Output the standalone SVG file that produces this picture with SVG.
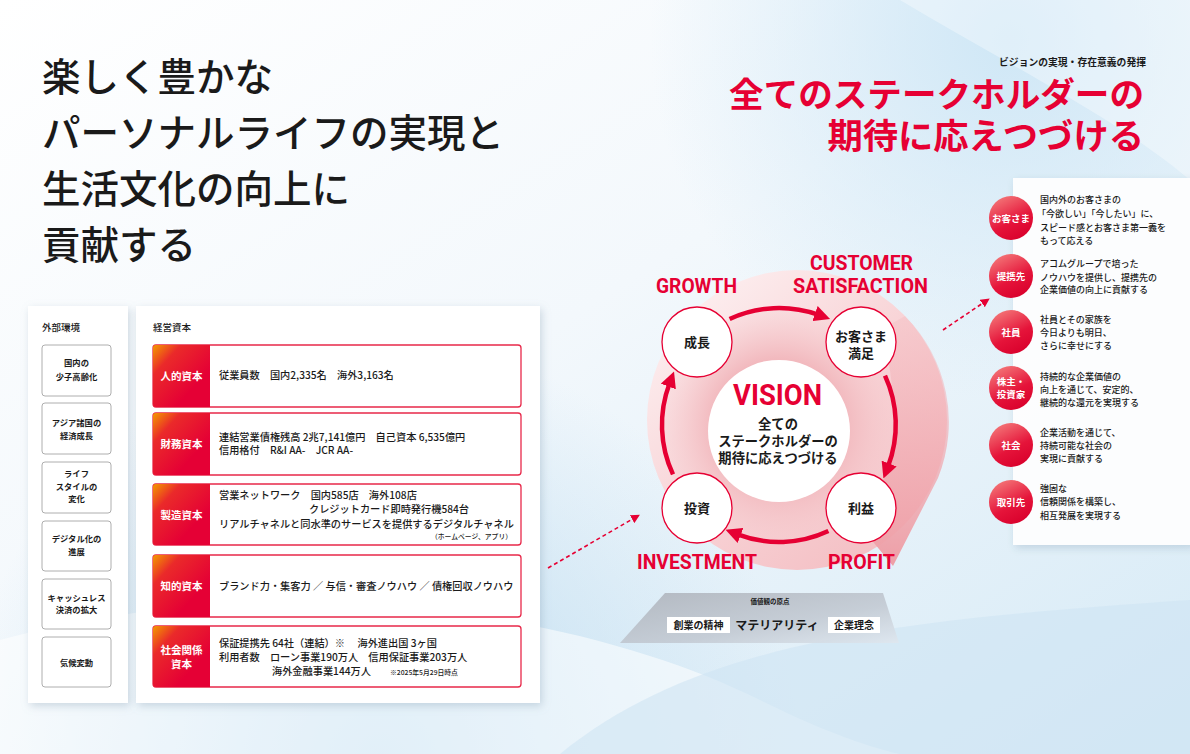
<svg xmlns="http://www.w3.org/2000/svg" width="1190" height="754" viewBox="0 0 1190 754">
<defs>
<linearGradient id="bg" x1="0" y1="0" x2="1" y2="1">
<stop offset="0" stop-color="#ffffff"/>
<stop offset="0.45" stop-color="#f3f8fc"/>
<stop offset="1" stop-color="#d6eaf6"/>
</linearGradient>
<radialGradient id="bgTR" cx="1010" cy="40" r="360" gradientUnits="userSpaceOnUse">
<stop offset="0" stop-color="#cfe7f6"/>
<stop offset="1" stop-color="#cfe7f6" stop-opacity="0"/>
</radialGradient>
<radialGradient id="bgBL" cx="380" cy="760" r="420" gradientUnits="userSpaceOnUse">
<stop offset="0" stop-color="#bddcf0"/>
<stop offset="1" stop-color="#bddcf0" stop-opacity="0"/>
</radialGradient>
<linearGradient id="lab" x1="0" y1="0" x2="0.7" y2="0.7">
<stop offset="0" stop-color="#f39a00"/>
<stop offset="0.35" stop-color="#ea2a2a"/>
<stop offset="1" stop-color="#e50035"/>
</linearGradient>
<linearGradient id="redc" x1="0.2" y1="0" x2="0.7" y2="1">
<stop offset="0" stop-color="#f47a7a"/>
<stop offset="0.6" stop-color="#e5143a"/>
<stop offset="1" stop-color="#d9002c"/>
</linearGradient>
<linearGradient id="disc" x1="0.1" y1="0.05" x2="0.9" y2="0.95">
<stop offset="0" stop-color="#fdf1f2"/>
<stop offset="0.5" stop-color="#f8d3d6"/>
<stop offset="1" stop-color="#f3bcc1"/>
</linearGradient>
<radialGradient id="inner" cx="779" cy="425" r="120" gradientUnits="userSpaceOnUse">
<stop offset="0.55" stop-color="#f2b9be"/>
<stop offset="1" stop-color="#f7d3d6" stop-opacity="0.3"/>
</radialGradient>
<linearGradient id="wedge" x1="0" y1="0" x2="0" y2="1">
<stop offset="0" stop-color="#f4bcc1" stop-opacity="0.4"/>
<stop offset="1" stop-color="#ee9ea6"/>
</linearGradient>
<linearGradient id="plat" x1="0" y1="0" x2="1" y2="1">
<stop offset="0" stop-color="#aeb3bb"/>
<stop offset="0.6" stop-color="#c3cad3"/>
<stop offset="1" stop-color="#dfe7ef"/>
</linearGradient>
<filter id="sh" x="-10%" y="-10%" width="120%" height="120%">
<feDropShadow dx="2" dy="3" stdDeviation="4" flood-color="#7f98ad" flood-opacity="0.35"/>
</filter>
<marker id="ah" viewBox="0 0 10 10" refX="2" refY="5" markerWidth="16" markerHeight="16" markerUnits="userSpaceOnUse" orient="auto">
<path d="M0,0 L10,5 L0,10 Z" fill="#e60033"/>
</marker>
<marker id="ahs" viewBox="0 0 10 10" refX="5" refY="5" markerWidth="9" markerHeight="9" markerUnits="userSpaceOnUse" orient="auto">
<path d="M0,0 L10,5 L0,10 Z" fill="#e60033"/>
</marker>
<style>
.jp{font-family:"Noto Sans CJK JP","Noto Sans",sans-serif;}
.t{font-family:"Noto Sans CJK JP","Noto Sans",sans-serif;fill:#1a1a1a;}
.m{font-weight:500;}
.b{font-weight:bold;}
.w{fill:#ffffff;font-weight:bold;font-family:"Noto Sans CJK JP","Noto Sans",sans-serif;}
.red{fill:#e60033;}
.en{font-family:Roboto,"Liberation Sans",sans-serif;font-weight:bold;fill:#e60033;}
.envbox{fill:#ffffff;stroke:#9a9a9a;stroke-width:0.8;}
.cap{fill:#ffffff;stroke:#e8284a;stroke-width:1.3;}
.node{fill:#ffffff;stroke:#e60033;stroke-width:1.3;}
.arc{fill:none;stroke:#e60033;stroke-width:4.5;marker-end:url(#ah);}
.dash{fill:none;stroke:#e60033;stroke-width:1.6;stroke-dasharray:4 3;marker-end:url(#ahs);}
.c10{font-size:10.2px;font-weight:500;}
.c9{font-size:9px;font-weight:500;}
.e8{font-size:8.3px;font-weight:bold;}
</style>
</defs>

<!-- background -->
<rect x="0" y="0" width="1190" height="754" fill="url(#bg)"/>
<rect x="0" y="0" width="1190" height="754" fill="url(#bgTR)"/>
<rect x="0" y="0" width="1190" height="754" fill="url(#bgBL)"/>
<path d="M0,640 C300,560 600,620 760,700 C850,745 900,754 900,754 L0,754 Z" fill="#ffffff" opacity="0.55"/>
<path d="M560,754 C700,640 900,620 1190,600 L1190,754 Z" fill="#cfe5f3" opacity="0.6"/>
<path d="M900,0 L1190,0 L1190,180 C1120,120 1000,60 900,0 Z" fill="#ffffff" opacity="0.35"/>

<!-- left title -->
<g id="main-title">
<text class="t m" font-size="38.5px"><tspan x="42" y="91">楽しく豊かな</tspan><tspan x="42" y="147">パーソナルライフの実現と</tspan><tspan x="42" y="203">生活文化の向上に</tspan><tspan x="42" y="259">貢献する</tspan></text>
</g>

<!-- right title -->
<g id="vision-title">
<text x="1146" y="66" class="t b" font-size="9.8px" text-anchor="end">ビジョンの実現・存在意義の発揮</text>
<text class="jp b red" text-anchor="end"><tspan x="1144" y="107" font-size="34.6px">全てのステークホルダーの</tspan><tspan x="1144" y="149" font-size="35.3px">期待に応えつづける</tspan></text>
</g>

<!-- external environment panel -->
<g id="external-env">
<rect x="28" y="306" width="100" height="397" fill="#ffffff" filter="url(#sh)"/>
<text x="42" y="331" class="t m" font-size="9.5px">外部環境</text>
<rect class="envbox" x="42" y="345" width="69" height="51" rx="3"/>
<text class="t e8" x="76.5" text-anchor="middle"><tspan x="76.5" y="366">国内の</tspan><tspan x="76.5" y="380">少子高齢化</tspan></text>
<rect class="envbox" x="42" y="403" width="69" height="51" rx="3"/>
<text class="t e8" x="76.5" text-anchor="middle"><tspan x="76.5" y="426">アジア諸国の</tspan><tspan x="76.5" y="439">経済成長</tspan></text>
<rect class="envbox" x="42" y="462" width="69" height="51" rx="3"/>
<text class="t e8" x="76.5" text-anchor="middle"><tspan x="76.5" y="477">ライフ</tspan><tspan x="76.5" y="490">スタイルの</tspan><tspan x="76.5" y="502">変化</tspan></text>
<rect class="envbox" x="42" y="521" width="69" height="50" rx="3"/>
<text class="t e8" x="76.5" text-anchor="middle"><tspan x="76.5" y="542">デジタル化の</tspan><tspan x="76.5" y="555">進展</tspan></text>
<rect class="envbox" x="42" y="579" width="69" height="50" rx="3"/>
<text class="t e8" x="76.5" text-anchor="middle"><tspan x="76.5" y="601">キャッシュレス</tspan><tspan x="76.5" y="613">決済の拡大</tspan></text>
<rect class="envbox" x="42" y="637" width="69" height="50" rx="3"/>
<text class="t e8" x="76.5" y="666" text-anchor="middle">気候変動</text>
</g>

<!-- management capital panel -->
<g id="capital">
<rect x="136" y="306" width="404" height="397" fill="#ffffff" filter="url(#sh)"/>
<text x="153" y="331" class="t m" font-size="9.5px">経営資本</text>

<rect class="cap" x="153" y="345" width="368" height="62" rx="3"/>
<path d="M156,345 H210 V407 H156 Q153,407 153,404 V348 Q153,345 156,345 Z" fill="url(#lab)"/>
<text class="w" font-size="10.5px" x="181.5" y="380" text-anchor="middle">人的資本</text>
<text class="t c10" x="219" y="379">従業員数　国内2,335名　海外3,163名</text>

<rect class="cap" x="153" y="413" width="368" height="62" rx="3"/>
<path d="M156,413 H210 V475 H156 Q153,475 153,472 V416 Q153,413 156,413 Z" fill="url(#lab)"/>
<text class="w" font-size="10.5px" x="181.5" y="448" text-anchor="middle">財務資本</text>
<text class="t c10" x="219" y="441">連結営業債権残高 2兆7,141億円　自己資本 6,535億円</text>
<text class="t c10" x="219" y="454">信用格付　R&amp;I AA-　JCR AA-</text>

<rect class="cap" x="153" y="484" width="368" height="61" rx="3"/>
<path d="M156,484 H210 V545 H156 Q153,545 153,542 V487 Q153,484 156,484 Z" fill="url(#lab)"/>
<text class="w" font-size="10.5px" x="181.5" y="519" text-anchor="middle">製造資本</text>
<text class="t c10" x="219" y="499">営業ネットワーク　国内585店　海外108店</text>
<text class="t c10" x="309" y="513">クレジットカード即時発行機584台</text>
<text class="t c10" x="219" y="528">リアルチャネルと同水準のサービスを提供するデジタルチャネル</text>
<text class="t m" font-size="6.8px" x="512" y="539" text-anchor="end">（ホームページ、アプリ）</text>

<rect class="cap" x="153" y="555" width="368" height="62" rx="3"/>
<path d="M156,555 H210 V617 H156 Q153,617 153,614 V558 Q153,555 156,555 Z" fill="url(#lab)"/>
<text class="w" font-size="10.5px" x="181.5" y="590" text-anchor="middle">知的資本</text>
<text class="t c10" x="219" y="590">ブランド力・集客力 ／ 与信・審査ノウハウ ／ 債権回収ノウハウ</text>

<rect class="cap" x="153" y="626" width="368" height="61" rx="3"/>
<path d="M156,626 H210 V687 H156 Q153,687 153,684 V629 Q153,626 156,626 Z" fill="url(#lab)"/>
<text class="w" font-size="10.5px" text-anchor="middle"><tspan x="181.5" y="654">社会関係</tspan><tspan x="181.5" y="668">資本</tspan></text>
<text class="t c10" x="219" y="647">保証提携先 64社（連結）※　 海外進出国 3ヶ国</text>
<text class="t c10" x="219" y="661">利用者数　ローン事業190万人　信用保証事業203万人</text>
<text class="t c10" x="272" y="675">海外金融事業144万人</text>
<text class="t m" font-size="6.8px" x="390" y="675">※2025年5月29日時点</text>
</g>

<!-- cycle background -->
<g id="cycle-bg">
<circle cx="797" cy="420" r="150" fill="url(#disc)"/>
<path d="M905,316 A150,150 0 0 1 938,478 L893,566 L860,526 Q915,440 880,330 Z" fill="url(#wedge)"/>
<circle cx="779" cy="425" r="118" fill="url(#inner)"/>
</g>

<!-- connectors -->
<g id="connectors">
<path class="arc" d="M729.6,319 A117,117 0 0 1 818,314.7"/>
<path class="arc" d="M885,375.6 A117,117 0 0 1 888,466.5"/>
<path class="arc" d="M828.4,531 A117,117 0 0 1 737.5,534.4"/>
<path class="arc" d="M673,474.4 A117,117 0 0 1 669.5,383.5"/>
<path class="dash" d="M548,568 L636,517"/>
<path class="dash" d="M943,330 L986,301"/>
</g>

<!-- vision center -->
<g id="vision">
<circle cx="779" cy="431" r="71" fill="#ffffff"/>
<text class="en" x="777.5" y="405" font-size="30px" text-anchor="middle" textLength="89" lengthAdjust="spacingAndGlyphs">VISION</text>
<text class="t b" font-size="13.3px" text-anchor="middle"><tspan x="778" y="429">全ての</tspan><tspan x="778" y="446">ステークホルダーの</tspan><tspan x="778" y="463">期待に応えつづける</tspan></text>
</g>

<g id="node-growth">
<circle class="node" cx="697" cy="342" r="35"/>
<text class="t b" font-size="13px" x="697" y="347" text-anchor="middle">成長</text>
<text class="en" x="656" y="293" font-size="19.5px" textLength="81" lengthAdjust="spacingAndGlyphs">GROWTH</text>
</g>
<g id="node-cs">
<circle class="node" cx="861" cy="342" r="35"/>
<text class="t b" font-size="13px" text-anchor="middle"><tspan x="861" y="341">お客さま</tspan><tspan x="861" y="358">満足</tspan></text>
<text class="en" font-size="19.5px" text-anchor="middle"><tspan x="861.5" y="270" textLength="103" lengthAdjust="spacingAndGlyphs">CUSTOMER</tspan><tspan x="860.5" y="293" textLength="135" lengthAdjust="spacingAndGlyphs">SATISFACTION</tspan></text>
</g>
<g id="node-profit">
<circle class="node" cx="861" cy="508" r="35"/>
<text class="t b" font-size="13px" x="861" y="513" text-anchor="middle">利益</text>
<text class="en" x="828" y="569" font-size="19.5px" textLength="67" lengthAdjust="spacingAndGlyphs">PROFIT</text>
</g>
<g id="node-investment">
<circle class="node" cx="697" cy="508" r="35"/>
<text class="t b" font-size="13px" x="697" y="513" text-anchor="middle">投資</text>
<text class="en" x="637" y="569" font-size="19.5px" textLength="120" lengthAdjust="spacingAndGlyphs">INVESTMENT</text>
</g>

<!-- platform -->
<g id="origin">
<path d="M665,593 L883,593 L899,643 L620,643 Z" fill="url(#plat)" opacity="0.9"/>
<text class="t b" font-size="6.5px" x="770" y="604" text-anchor="middle">価値観の原点</text>
<rect x="667" y="617" width="63" height="16" fill="#ffffff"/>
<text class="t b" font-size="10px" x="698.5" y="629" text-anchor="middle">創業の精神</text>
<text class="t b" font-size="12px" x="777" y="630" text-anchor="middle">マテリアリティ</text>
<rect x="828" y="617" width="52" height="16" fill="#ffffff"/>
<text class="t b" font-size="10px" x="854" y="629" text-anchor="middle">企業理念</text>
</g>

<!-- stakeholders panel -->
<g id="stakeholders">
<rect x="1013" y="178" width="180" height="367" fill="#ffffff" opacity="0.92" filter="url(#sh)"/>
</g>
<g id="sh-customer">
<circle cx="1011" cy="218" r="22" fill="url(#redc)"/>
<text class="w" font-size="9.5px" x="1011" y="221.5" text-anchor="middle">お客さま</text>
<text class="t c9"><tspan x="1040" y="203">国内外のお客さまの</tspan><tspan x="1037" y="217">「今欲しい」「今したい」に、</tspan><tspan x="1040" y="231">スピード感とお客さま第一義を</tspan><tspan x="1040" y="244">もって応える</tspan></text>
</g>
<g id="sh-partner">
<circle cx="1011" cy="276" r="22" fill="url(#redc)"/>
<text class="w" font-size="9.5px" x="1011" y="279.5" text-anchor="middle">提携先</text>
<text class="t c9"><tspan x="1040" y="267">アコムグループで培った</tspan><tspan x="1040" y="281">ノウハウを提供し、提携先の</tspan><tspan x="1040" y="293">企業価値の向上に貢献する</tspan></text>
</g>
<g id="sh-employee">
<circle cx="1011" cy="332" r="22" fill="url(#redc)"/>
<text class="w" font-size="9.5px" x="1011" y="335.5" text-anchor="middle">社員</text>
<text class="t c9"><tspan x="1040" y="323">社員とその家族を</tspan><tspan x="1040" y="336">今日よりも明日、</tspan><tspan x="1040" y="349">さらに幸せにする</tspan></text>
</g>
<g id="sh-investor">
<circle cx="1011" cy="388" r="22" fill="url(#redc)"/>
<text class="w" font-size="9.5px" text-anchor="middle"><tspan x="1011" y="385">株主・</tspan><tspan x="1011" y="398">投資家</tspan></text>
<text class="t c9"><tspan x="1040" y="380">持続的な企業価値の</tspan><tspan x="1040" y="393">向上を通じて、安定的、</tspan><tspan x="1040" y="406">継続的な還元を実現する</tspan></text>
</g>
<g id="sh-society">
<circle cx="1011" cy="445" r="22" fill="url(#redc)"/>
<text class="w" font-size="9.5px" x="1011" y="448.5" text-anchor="middle">社会</text>
<text class="t c9"><tspan x="1040" y="436">企業活動を通じて、</tspan><tspan x="1040" y="449">持続可能な社会の</tspan><tspan x="1040" y="462">実現に貢献する</tspan></text>
</g>
<g id="sh-business">
<circle cx="1011" cy="502" r="22" fill="url(#redc)"/>
<text class="w" font-size="9.5px" x="1011" y="505.5" text-anchor="middle">取引先</text>
<text class="t c9"><tspan x="1040" y="492">強固な</tspan><tspan x="1040" y="505">信頼関係を構築し、</tspan><tspan x="1040" y="519">相互発展を実現する</tspan></text>
</g>
</svg>
